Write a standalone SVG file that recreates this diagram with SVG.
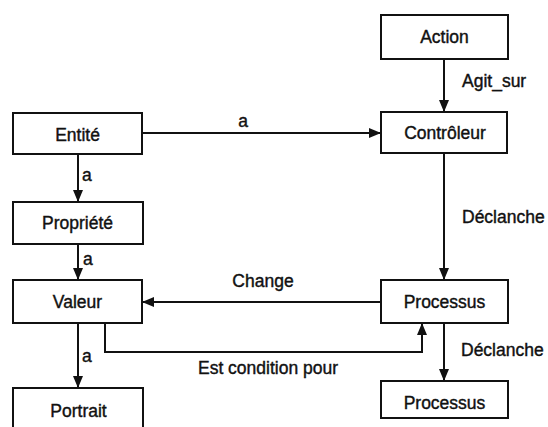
<svg xmlns="http://www.w3.org/2000/svg" width="548" height="427" viewBox="0 0 548 427">
  <defs>
    <marker id="arrow" viewBox="0 0 12 10" refX="12" refY="5" markerWidth="12" markerHeight="10" markerUnits="userSpaceOnUse" orient="auto">
      <path d="M0,0 L12,5 L0,10 Z" fill="#111"/>
    </marker>
    <style>
      .box { fill: #fff; stroke: #111; stroke-width: 2; }
      .label { font-family: "Liberation Sans", Arial, sans-serif; font-size: 17.5px; fill: #111; stroke: #111; stroke-width: 0.4; }
      .node-text { text-anchor: middle; }
      .edge { fill: none; stroke: #111; stroke-width: 2; }
      .arrowed { marker-end: url(#arrow); }
    </style>
  </defs>
  <rect width="548" height="427" fill="#fff"/>

  <!-- connectors -->
  <g id="connectors">
    <path class="edge arrowed" d="M444,59 L444,112"/>
    <path class="edge arrowed" d="M142,133 L381,133"/>
    <path class="edge arrowed" d="M444,153 L444,280"/>
    <path class="edge arrowed" d="M78,154 L78,202"/>
    <path class="edge arrowed" d="M78,244 L78,280"/>
    <path class="edge arrowed" d="M381,302 L142,302"/>
    <path class="edge arrowed" d="M78,323 L78,388"/>
    <path class="edge arrowed" d="M105,323 L105,352 L422,352 L422,323"/>
    <path class="edge arrowed" d="M444,323 L444,381"/>

    <text class="label" x="462" y="87">Agit_sur</text>
    <text class="label" x="243" y="127" text-anchor="middle">a</text>
    <text class="label" x="462" y="223">Déclanche</text>
    <text class="label" x="82" y="181">a</text>
    <text class="label" x="83" y="265">a</text>
    <text class="label" x="263" y="287" text-anchor="middle">Change</text>
    <text class="label" x="82" y="362">a</text>
    <text class="label" x="268" y="374" text-anchor="middle">Est condition pour</text>
    <text class="label" x="461" y="356">Déclanche</text>
  </g>

  <!-- nodes -->
  <g id="action">
    <rect class="box" x="381" y="15" width="127" height="44"/>
    <text class="label node-text" x="444.5" y="43">Action</text>
  </g>
  <g id="controleur">
    <rect class="box" x="381" y="112" width="126" height="41"/>
    <text class="label node-text" x="445" y="139">Contrôleur</text>
  </g>
  <g id="entite">
    <rect class="box" x="13" y="113" width="129" height="41"/>
    <text class="label node-text" x="77.5" y="141">Entité</text>
  </g>
  <g id="propriete">
    <rect class="box" x="13" y="202" width="130" height="42"/>
    <text class="label node-text" x="77.5" y="229">Propriété</text>
  </g>
  <g id="valeur">
    <rect class="box" x="13" y="280" width="129" height="43"/>
    <text class="label node-text" x="77.5" y="308">Valeur</text>
  </g>
  <g id="portrait">
    <rect class="box" x="13" y="388" width="130" height="50"/>
    <text class="label node-text" x="78.5" y="417">Portrait</text>
  </g>
  <g id="processus-1">
    <rect class="box" x="381" y="280" width="127" height="43"/>
    <text class="label node-text" x="444.5" y="308">Processus</text>
  </g>
  <g id="processus-2">
    <rect class="box" x="381" y="381" width="127" height="37"/>
    <text class="label node-text" x="444.5" y="409">Processus</text>
  </g>
</svg>
